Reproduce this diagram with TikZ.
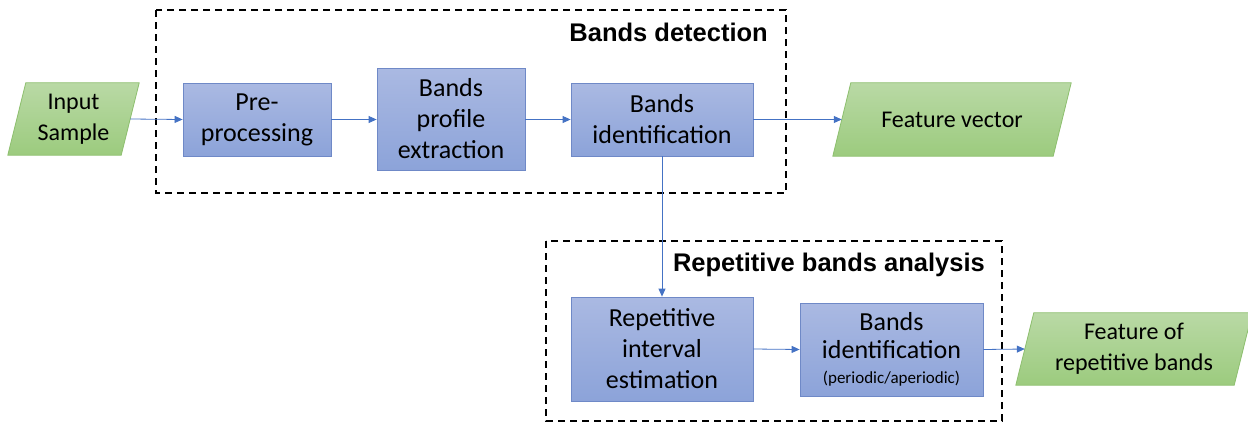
\documentclass[tikz,border=0pt]{standalone}
\usepackage{fontspec}
\setmainfont{Carlito}
\newfontfamily\titlefont{Liberation Sans}
\usetikzlibrary{arrows.meta}
\definecolor{boxtop}{HTML}{AAB9E2}
\definecolor{boxbot}{HTML}{8CA3D9}
\definecolor{boxline}{HTML}{6F89C7}
\definecolor{iotop}{HTML}{B9D9A5}
\definecolor{iobot}{HTML}{9CCB7E}
\definecolor{ioline}{HTML}{8DBF6E}
\definecolor{flow}{HTML}{4472C4}
\begin{document}
\begin{tikzpicture}[x=1pt,y=-1pt,
  stepbox/.style={draw=boxline, line width=0.8pt, top color=boxtop, bottom color=boxbot,
    inner sep=0pt, align=center, font=\fontsize{26}{31}\selectfont},
  % io nodes are sized at half height; the slanted outline is drawn around them
  iobox/.style={inner sep=0pt, align=center, font=\fontsize{24}{31}\selectfont},
  ioshape/.style={draw=ioline, line width=0.8pt, top color=iotop, bottom color=iobot},
  flowline/.style={draw=flow, line width=0.8pt, -{Triangle[length=8pt,width=7pt]}},
  group/.style={draw=black, line width=1.8pt, dash pattern=on 7pt off 5pt},
  grouptitle/.style={font=\titlefont\bfseries\fontsize{25.5}{28}\selectfont, inner sep=0pt, anchor=east}
]
\useasboundingbox (0,0) rectangle (1248,423);
\def\skew{9}
\newcommand\slanted[1]{%
  \path[ioshape] ([xshift=-\skew pt]#1.south west) -- ([xshift=\skew pt]#1.north west)
    -- ([xshift=\skew pt]#1.north east) -- ([xshift=-\skew pt]#1.south east) -- cycle;}

% group frames and their titles
\draw[group] (156,10) rectangle (786,193);
\node[grouptitle] (tdet) at (768,32) {Bands detection};
\draw[group] (546,241) rectangle (1002,421);
\node[grouptitle] (trep) at (985,265) {Repetitive bands analysis};

% inputs and outputs
\node[iobox, minimum width=113pt, minimum height=72pt] (in) at (73.5,119) {};
\node[iobox, minimum width=220pt, minimum height=73pt] (fv) at (952,119.5) {};
\node[iobox, minimum width=218pt, minimum height=72pt] (frb) at (1134,349) {};
\slanted{in}
\slanted{fv}
\slanted{frb}
\node[iobox] at (in) {Input\\Sample};
\node[iobox] at (fv) {Feature vector};
\node[iobox] at (frb) {Feature of\\repetitive bands};

% processing steps
\node[stepbox, minimum width=148pt, minimum height=73pt] (pre) at (257,119.5) {Pre-\\processing};
\node[stepbox, minimum width=148pt, minimum height=102pt] (bpe) at (451,119) {Bands\\profile\\extraction};
\node[stepbox, minimum width=182pt, minimum height=73pt] (bid) at (662,119.5) {Bands\\identification};
\node[stepbox, minimum width=182pt, minimum height=104pt] (rie) at (662,349) {Repetitive\\interval\\estimation};
\node[stepbox, minimum width=183pt, minimum height=93pt] (bip) at (891.5,349.5)
  {Bands\\[-3pt]identification\\[-6pt]{\fontsize{17}{20}\selectfont(periodic/aperiodic)}};

% connectors
\draw[flowline] (in.east) -- (pre.west);
\draw[flowline] (pre.east) -- (bpe.west |- pre.east);
\draw[flowline] (bpe.east |- bid.west) -- (bid.west);
\draw[flowline] (bid.east) -- (fv.west);
\draw[flowline] (bid.south) -- (rie.north);
\draw[flowline] (rie.east) -- (bip.west);
\draw[flowline] (bip.east) -- (frb.west);
\end{tikzpicture}
\end{document}
